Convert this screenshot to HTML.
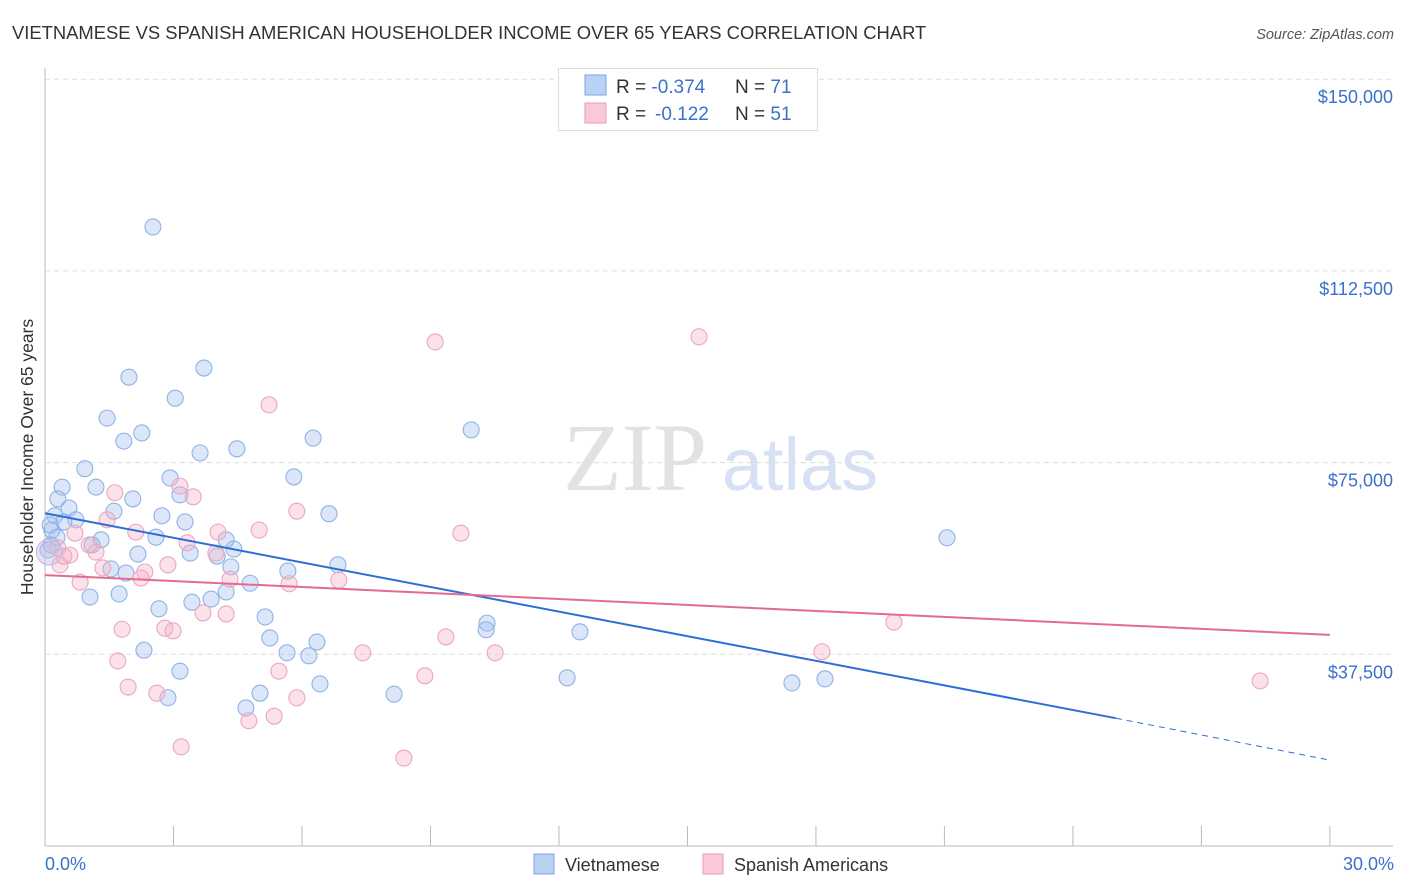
<!DOCTYPE html>
<html><head><meta charset="utf-8"><style>
body{margin:0;background:#fff;font-family:"Liberation Sans",sans-serif;}
svg{display:block}
</style></head><body>
<svg id="chart" width="1406" height="892">
<text x="12" y="39" font-size="18.4" fill="#333">VIETNAMESE VS SPANISH AMERICAN HOUSEHOLDER INCOME OVER 65 YEARS CORRELATION CHART</text>
<text x="1394" y="39" font-size="14.5" fill="#555" font-style="italic" text-anchor="end">Source: ZipAtlas.com</text>
<text x="33" y="457" font-size="17.5" fill="#333" text-anchor="middle" transform="rotate(-90 33 457)">Householder Income Over 65 years</text>
<g><text x="635" y="490" font-size="96" fill="#e2e2e2" font-family="Liberation Serif,serif" text-anchor="middle">ZIP</text><text x="800" y="490" font-size="74" fill="#d6e2f3" text-anchor="middle">atlas</text></g>
<g id="grid"></g><g id="marks"></g>
<g>
<rect x="558.5" y="68.5" width="259" height="62" fill="#fff" stroke="#ddd"/>
<rect x="585" y="75" width="21" height="20" fill="#b9d2f4" stroke="#7aa3e0"/>
<rect x="585" y="103" width="21" height="20" fill="#f9c9d7" stroke="#e99ab5"/>
<text x="616" y="93" font-size="19" fill="#333">R = <tspan fill="#3a72c9">-0.374</tspan><tspan x="735">N = </tspan><tspan fill="#3a72c9">71</tspan></text>
<text x="616" y="120" font-size="19" fill="#333">R = <tspan x="655" fill="#3a72c9">-0.122</tspan><tspan x="735">N = </tspan><tspan fill="#3a72c9">51</tspan></text>
</g>
<g>
<rect x="534" y="854" width="20" height="20" fill="#b9d2f4" stroke="#7aa3e0"/>
<text x="565" y="871" font-size="18" fill="#333">Vietnamese</text>
<rect x="703" y="854" width="20" height="20" fill="#f9c9d7" stroke="#e99ab5"/>
<text x="734" y="871" font-size="18" fill="#333">Spanish Americans</text>
</g>
<text x="45" y="870" font-size="18" fill="#3a72c9">0.0%</text>
<text x="1394" y="870" font-size="18" fill="#3a72c9" text-anchor="end">30.0%</text>
</svg>
<script>
const yTicks=[150000,112500,75000,37500];
const yTickLabels=["$150,000","$112,500","$75,000","$37,500"];
const blueX=[2.52,1.96,3.71,3.04,1.45,2.26,1.84,4.48,3.62,6.26,9.95,0.93,2.92,5.81,0.40,1.19,0.30,2.05,3.15,0.56,1.61,2.73,3.27,6.63,0.23,0.72,0.44,1.31,4.23,4.41,1.10,2.17,3.39,4.02,0.16,0.14,1.54,1.89,4.34,5.67,6.84,4.79,1.05,1.73,3.88,3.43,2.66,4.23,5.14,5.25,6.35,5.65,6.16,10.32,10.30,12.49,2.31,3.15,6.42,5.02,2.87,8.15,4.69,12.19,17.44,18.21,21.06,0.07,0.28,0.12,2.59];
const blueY=[121.1,91.7,93.5,87.6,83.7,80.8,79.2,77.7,76.9,79.8,81.4,73.8,72.0,72.2,70.2,70.2,67.9,67.9,68.7,66.1,65.5,64.6,63.4,65.0,64.6,63.8,63.4,59.9,59.9,58.1,58.9,57.1,57.3,56.7,61.8,58.9,54.2,53.4,54.6,53.8,55.0,51.4,48.7,49.3,48.3,47.7,46.4,49.7,44.8,40.7,39.9,37.8,37.2,43.6,42.3,41.9,38.3,34.2,31.7,29.9,29.0,29.7,27.0,32.9,31.9,32.7,60.3,57.9,60.4,62.8,60.4];
const pinkX=[9.11,15.27,5.23,1.63,3.15,3.46,1.45,0.70,2.12,4.04,5.00,5.88,9.71,0.30,0.58,1.19,3.32,3.99,0.35,0.82,1.35,2.33,2.87,2.24,4.32,3.69,4.23,5.70,6.86,1.80,2.80,2.99,9.36,10.51,7.42,5.46,8.87,1.70,1.94,2.61,5.88,4.76,5.35,3.18,8.38,18.14,19.82,28.37,0.44,1.03];
const pinkY=[98.6,99.6,86.3,69.1,70.4,68.3,63.8,61.2,61.4,61.4,61.8,65.5,61.2,58.3,56.9,57.5,59.3,57.3,55.0,51.6,54.4,53.6,55.0,52.4,52.2,45.6,45.4,51.3,52.0,42.4,42.6,42.1,40.9,37.8,37.8,34.2,33.3,36.2,31.1,29.9,29.0,24.5,25.4,19.4,17.2,38.0,43.8,32.3,56.7,58.9];
const blueTrend=[65.1,25.0,16.8];
const blueTrendX=[0,25,30];
const pinkTrend=[53.0,41.3];
const pinkTrendX=[0,30];
const xs=p=>45+p*42.83;
const ys=k=>846-k*5.112;
const NS="http://www.w3.org/2000/svg";
function mk(t,a,parent){const e=document.createElementNS(NS,t);for(const k in a)e.setAttribute(k,a[k]);parent.appendChild(e);return e;}
const grid=document.getElementById('grid'),marks=document.getElementById('marks');
yTicks.forEach((v,i)=>{
 const y=ys(v/1000);
 const l=mk('line',{x1:45,x2:1393,y1:y,y2:y,stroke:'#ddd','stroke-dasharray':'5,4'},grid);
 
 
 const t=mk('text',{x:1393,y:y+24,'font-size':18,fill:'#3a72c9','text-anchor':'end'},grid);
 t.textContent=yTickLabels[i];
 
 
});
mk('line',{x1:45,x2:45,y1:68,y2:846,stroke:'#bbb'},grid);
mk('line',{x1:45,x2:1393,y1:846,y2:846,stroke:'#bbb'},grid);
for(let i=0;i<=10;i++){const x=xs(i*3);const tk=mk('line',{x1:x,x2:x,y1:826,y2:846,stroke:'#bbb'},grid);
 
 }
function dots(X,Y,fill,stroke,name){X.forEach((x,i)=>{const c=mk('circle',{cx:xs(x),cy:ys(Y[i]),r:8,fill:fill,stroke:stroke,'stroke-width':1.1},marks);
 
 });}
dots(blueX,blueY,'rgba(160,192,240,0.38)','#8fb2e6','vietnamese-point');
dots(pinkX,pinkY,'rgba(245,178,200,0.38)','#eca6be','spanish-point');
const big=mk('circle',{cx:xs(0.1),cy:ys(57.5),r:13,fill:'rgba(200,190,230,0.45)',stroke:'#c8b4dc'},marks);


const b1=mk('line',{x1:xs(blueTrendX[0]),y1:ys(blueTrend[0]),x2:xs(blueTrendX[1]),y2:ys(blueTrend[1]),stroke:'#2b6fd6','stroke-width':2},marks);


const b2=mk('line',{x1:xs(blueTrendX[1]),y1:ys(blueTrend[1]),x2:xs(blueTrendX[2]),y2:ys(blueTrend[2]),stroke:'#2b6fd6','stroke-width':1,'stroke-dasharray':'6,5'},marks);


const p1=mk('line',{x1:xs(pinkTrendX[0]),y1:ys(pinkTrend[0]),x2:xs(pinkTrendX[1]),y2:ys(pinkTrend[1]),stroke:'#e36b93','stroke-width':2},marks);


</script>
</body></html>
